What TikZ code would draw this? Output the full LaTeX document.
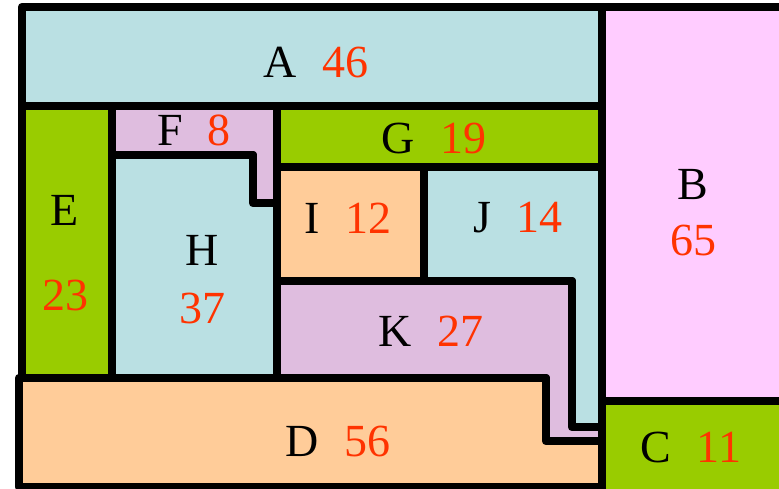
\documentclass[tikz,border=0pt]{standalone}
\usepackage{fontspec}
\setmainfont{Liberation Serif}
\definecolor{lblue}{HTML}{BAE0E3}
\definecolor{lpink}{HTML}{FFCCFF}
\definecolor{lgreen}{HTML}{99CC00}
\definecolor{llilac}{HTML}{DFBDDF}
\definecolor{lpeach}{HTML}{FFCC99}
\definecolor{numred}{HTML}{FF3300}
\begin{document}
\begin{tikzpicture}[x=1pt,y=-1pt,
  region/.style={draw=black,line width=8.5pt,line join=round},
  lbl/.style={font=\fontsize{46}{50}\selectfont,inner sep=0pt,anchor=center}]
\useasboundingbox (0,0) rectangle (779,489);
% regions
\path[region,fill=lblue] (22,7) rectangle (602,106);
\path[region,fill=lpink] (602,7) rectangle (800,401);
\path[region,fill=lgreen] (602,401) rectangle (800,500);
\path[region,fill=lgreen] (22,106) rectangle (112,378);
\path[region,fill=llilac] (112,106) -- (277,106) -- (277,203) -- (253,203) -- (253,155) -- (112,155) -- cycle;
\path[region,fill=lgreen] (277,106) rectangle (602,167);
\path[region,fill=lblue] (112,155) -- (253,155) -- (253,203) -- (277,203) -- (277,378) -- (112,378) -- cycle;
\path[region,fill=lpeach] (277,167) rectangle (424,281);
\path[region,fill=lblue] (424,167) -- (602,167) -- (602,427) -- (572,427) -- (572,281) -- (424,281) -- cycle;
\path[region,fill=llilac] (277,281) -- (572,281) -- (572,427) -- (602,427) -- (602,441) -- (546,441) -- (546,378) -- (277,378) -- cycle;
\path[region,fill=lpeach] (19,378) -- (546,378) -- (546,441) -- (602,441) -- (602,487) -- (19,487) -- cycle;
% labels
\node[lbl] (tA) at (316,62) {A\hspace{0.55em}\textcolor{numred}{46}};
\node[lbl] (tB) at (693,185) {B};
\node[lbl] (nB) at (693,240) {\textcolor{numred}{65}};
\node[lbl] (tC) at (691,447) {C\hspace{0.55em}\textcolor{numred}{11}};
\node[lbl] (tD) at (338,441) {D\hspace{0.55em}\textcolor{numred}{56}};
\node[lbl] (tE) at (65,210) {E};
\node[lbl] (nE) at (65,295) {\textcolor{numred}{23}};
\node[lbl] (tF) at (194,130) {F\hspace{0.55em}\textcolor{numred}{8}};
\node[lbl] (tG) at (434,138) {G\hspace{0.55em}\textcolor{numred}{19}};
\node[lbl] (tH) at (202,250) {H};
\node[lbl] (nH) at (202,308) {\textcolor{numred}{37}};
\node[lbl] (tI) at (348,218) {I\hspace{0.55em}\textcolor{numred}{12}};
\node[lbl] (tJ) at (518,218) {J\hspace{0.55em}\textcolor{numred}{14}};
\node[lbl] (tK) at (431,331) {K\hspace{0.55em}\textcolor{numred}{27}};
\end{tikzpicture}
\end{document}
